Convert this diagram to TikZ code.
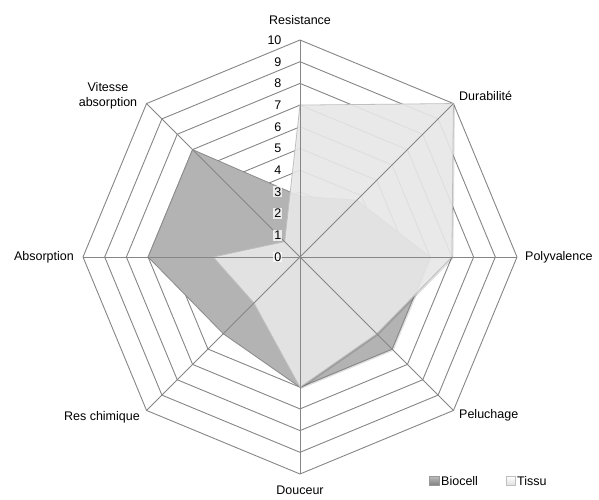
\documentclass[tikz,border=0pt]{standalone}
\usepackage{fontspec}
\setmainfont{Liberation Sans}
\definecolor{gridc}{HTML}{868686}
\definecolor{biocol}{HTML}{B3B3B3}
\definecolor{tissucol}{HTML}{EAEAEA}
\begin{document}
\begin{tikzpicture}[x=1pt,y=-1pt,
  font=\fontsize{12.5}{14}\selectfont,
  gridline/.style={draw=gridc, line width=0.9pt},
  biofill/.style={fill=biocol},
  bioedge/.style={draw=black!45, line width=0.8pt, line join=round},
  tissufill/.style={fill=tissucol, fill opacity=0.9},
  tissuedge/.style={draw=black!25, line width=0.8pt, line join=round},
  shadowstyle/.style={fill=black, fill opacity=0.12},
  numlab/.style={anchor=east, fill=white, fill opacity=0.75, text opacity=1, inner sep=1pt},
  axlab/.style={inner sep=0pt}]
\useasboundingbox (0,0) rectangle (599,499);
\fill[white] (0,0) rectangle (599,499);
\begin{scope}[shift={(300,257)}, x=21.7pt, y=21.7pt]
  % rings
  \foreach \k in {1,...,10}
    \draw[gridline] (90:\k) -- (45:\k) -- (0:\k) -- (-45:\k) -- (-90:\k) -- (-135:\k) -- (180:\k) -- (135:\k) -- cycle;
  % Biocell
  \coordinate (b1) at (90:2.8);
  \coordinate (b2) at (45:3.7);
  \coordinate (b3) at (0:6);
  \coordinate (b4) at (-45:6);
  \coordinate (b5) at (-90:6);
  \coordinate (b6) at (-135:5);
  \coordinate (b7) at (180:7);
  \coordinate (b8) at (135:7);
  \fill[shadowstyle] ([shift={(0.07,-0.07)}]b1) -- ([shift={(0.07,-0.07)}]b2) -- ([shift={(0.07,-0.07)}]b3) -- ([shift={(0.07,-0.07)}]b4) -- ([shift={(0.07,-0.07)}]b5) -- ([shift={(0.07,-0.07)}]b6) -- ([shift={(0.07,-0.07)}]b7) -- ([shift={(0.07,-0.07)}]b8) -- cycle;
  \path[biofill, bioedge] (b1) -- (b2) -- (b3) -- (b4) -- (b5) -- (b6) -- (b7) -- (b8) -- cycle;
  % Tissu
  \coordinate (t1) at (90:7);
  \coordinate (t2) at (45:10);
  \coordinate (t3) at (0:7);
  \coordinate (t4) at (-45:5);
  \coordinate (t5) at (-90:6);
  \coordinate (t6) at (-135:3);
  \coordinate (t7) at (180:4);
  \coordinate (t8) at (135:1);
  \fill[shadowstyle] ([shift={(0.07,-0.07)}]t1) -- ([shift={(0.07,-0.07)}]t2) -- ([shift={(0.07,-0.07)}]t3) -- ([shift={(0.07,-0.07)}]t4) -- ([shift={(0.07,-0.07)}]t5) -- ([shift={(0.07,-0.07)}]t6) -- ([shift={(0.07,-0.07)}]t7) -- ([shift={(0.07,-0.07)}]t8) -- cycle;
  \path[tissufill] (t1) -- (t2) -- (t3) -- (t4) -- (t5) -- (t6) -- (t7) -- (t8) -- cycle;
  \draw[tissuedge] (t1) -- (t2) -- (t3) -- (t4) -- (t5) -- (t6) -- (t7) -- (t8) -- cycle;
  % axes
  \coordinate (o) at (0,0);
  \foreach \a in {90,45,0,-45,-90,-135,180,135}
    \draw[gridline] (o) -- (\a:10);
  % scale labels
  \foreach \k in {0,...,10}
    \node[numlab] (n\k) at (-0.8,\k) {\k};
\end{scope}
% axis labels
\node[axlab] (lres) at (300,20) {Resistance};
\node[axlab, anchor=west] (ldur) at (459,96) {Durabilité};
\node[axlab, anchor=west] (lpol) at (525,257) {Polyvalence};
\node[axlab, anchor=west] (lpel) at (459,415) {Peluchage};
\node[axlab] (ldou) at (300,490) {Douceur};
\node[axlab, anchor=east] (lrch) at (140,417) {Res chimique};
\node[axlab, anchor=east] (labs) at (74,257) {Absorption};
\node[axlab, align=center] (lvit) at (108,96) {Vitesse\\[1pt]absorption};
% legend
\shade[top color=black!25, bottom color=black!50, draw=black!40] (429,476) rectangle (439,485);
\node[axlab, anchor=west] (lbio) at (441,481) {Biocell};
\shade[top color=white, bottom color=black!12, draw=black!25] (506,476) rectangle (515,485);
\node[axlab, anchor=west] (ltis) at (517,481) {Tissu};
\end{tikzpicture}
\end{document}
